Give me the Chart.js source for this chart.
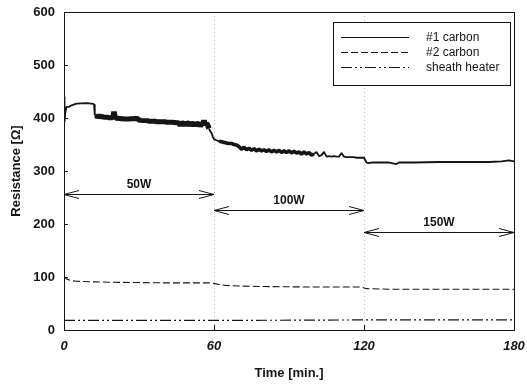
<!DOCTYPE html>
<html>
<head>
<meta charset="utf-8">
<script src="https://cdn.jsdelivr.net/npm/chart.js@4.4.1/dist/chart.umd.min.js"></script>
<style>
  html, body { margin: 0; padding: 0; background: #fff; }
  #wrap { width: 527px; height: 386px; }
</style>
</head>
<body>
<div id="wrap"><canvas id="chart" width="527" height="386"></canvas></div>
<script>
// ---- data ----
const seriesLabels = ['#1 carbon', '#2 carbon', 'sheath heater'];

const carbon1Time = [0, 0.2, 0.5, 1, 2, 3, 5, 9, 11, 12, 12.3,
  13, 13.5, 14, 14.5, 15, 15.5, 16, 16.5, 17, 17.5, 18, 18.5, 19, 19.5, 20, 20.5,
  21, 21.5, 22, 22.5, 23, 23.5, 24, 24.5, 25, 25.5, 26, 26.5, 27, 27.5, 28, 28.5,
  29, 29.5, 30, 30.5, 31, 31.5, 32, 32.5, 33, 33.5, 34, 34.5, 35, 35.5, 36, 36.5,
  37, 37.5, 38, 38.5, 39, 39.5, 40, 40.5, 41, 41.5, 42, 42.5, 43, 43.5, 44, 44.5,
  45, 45.5, 46, 46.5, 47, 47.5, 48, 48.5, 49, 49.5, 50, 50.5, 51, 51.5, 52, 52.5,
  53, 53.5, 54, 54.5, 55, 55.5, 56, 56.5, 57, 57.5, 58, 58.5, 59, 59.5, 60, 61,
  62, 63, 64, 65, 66, 67, 68, 69, 70, 71, 72, 73, 74, 75, 76, 77, 78, 79, 80, 81,
  82, 83, 84, 85, 86, 87, 88, 89, 90, 91, 92, 93, 94, 95, 96, 97, 98, 99, 100, 101,
  102, 103, 104, 105, 106, 107, 108, 109, 110, 111, 112, 113, 114, 115, 116, 117,
  118, 119, 120, 121, 122, 123, 125, 130, 133, 134, 140, 150, 160, 170, 175, 178, 180];
const carbon1Values = [440, 392, 410, 421, 421, 424, 427, 428, 427, 426, 406,
  405, 401, 406, 400, 405, 400, 404, 399, 404, 399, 403, 398, 403, 398, 412, 399,
  402, 397, 401, 397, 401, 396, 400, 396, 400, 396, 400, 396, 401, 396, 401, 397,
  401, 396, 398, 394, 397, 393, 397, 393, 397, 393, 396, 392, 396, 392, 396, 392,
  395, 391, 395, 391, 395, 391, 395, 391, 394, 390, 394, 390, 394, 390, 394, 389,
  393, 389, 393, 385, 392, 389, 392, 385, 392, 389, 392, 385, 391, 388, 391, 385,
  391, 388, 391, 384, 390, 388, 395, 387, 390, 386, 380, 375, 372, 365, 360, 358,
  356, 355, 354, 353, 352, 352, 350, 349, 346, 341, 345, 340, 343, 339, 342, 338,
  341, 338, 340, 337, 340, 336, 339, 336, 339, 335, 338, 335, 338, 334, 337, 334,
  336, 332, 336, 332, 335, 330, 332, 336, 328, 330, 336, 327, 328, 327, 328, 327,
  327, 334, 327, 326, 326, 326, 326, 325, 325, 325, 325, 316, 315, 316, 316, 316,
  313, 316, 316, 317, 317, 317, 318, 320, 318];

const carbon2Time = [0, 1, 3, 5, 10, 20, 40, 58, 60, 62, 65, 70, 80, 100, 119, 121, 130, 150, 180];
const carbon2Values = [100, 96, 93, 92, 91, 90, 89, 89, 88, 86, 84, 83, 82, 81, 81, 78, 77, 77, 77];

const heaterTime = [0, 60, 120, 180];
const heaterValues = [18, 18, 19, 19];

const xTicks = [0, 60, 120, 180];
const yTicks = [0, 100, 200, 300, 400, 500, 600];

// heating power periods shown by the double arrows
const powerLabels = ['50W', '100W', '150W'];
const powerStart = [0, 60, 120];
const powerEnd = [60, 120, 180];
const powerLevel = [257, 226, 185];

const pts = (xs, ys) => xs.map((x, i) => ({ x: x, y: ys[i] }));
const ink = '#151515';

// the noisy stretches of #1 carbon show up as a thick band
const bandWidth = c => {
  const t = c.p0.parsed.x;
  if (t >= 13 && t < 58) return 5.5;
  if (t >= 62 && t < 100) return 3.6;
  return 1.8;
};

// frame, inner ticks, period arrows and legend box
const decor = {
  id: 'decor',
  beforeDatasetsDraw(chart) {
    const { ctx, chartArea: a, scales: { x } } = chart;
    ctx.save();
    ctx.strokeStyle = '#bdbdbd';
    ctx.lineWidth = 1;
    ctx.setLineDash([1, 3]);
    [60, 120].forEach(v => {
      const px = Math.round(x.getPixelForValue(v)) + 0.5;
      ctx.beginPath(); ctx.moveTo(px, a.top); ctx.lineTo(px, a.bottom); ctx.stroke();
    });
    ctx.restore();
  },
  afterDatasetsDraw(chart) {
    const { ctx, chartArea: a, scales: { x, y } } = chart;
    ctx.save();
    ctx.strokeStyle = ink;
    ctx.lineWidth = 1;
    ctx.strokeRect(Math.round(a.left) + 0.5, Math.round(a.top) + 0.5,
      Math.round(a.right - a.left), Math.round(a.bottom - a.top));

    // inward tick marks
    ctx.beginPath();
    yTicks.forEach(v => {
      const py = Math.round(y.getPixelForValue(v)) + 0.5;
      ctx.moveTo(a.left, py); ctx.lineTo(a.left + 4, py);
    });
    [60, 120].forEach(v => {
      const px = Math.round(x.getPixelForValue(v)) + 0.5;
      ctx.moveTo(px, a.bottom); ctx.lineTo(px, a.bottom - 5);
    });
    ctx.stroke();

    // double arrows
    ctx.font = 'bold 12px "Liberation Sans", Arial, sans-serif';
    ctx.textAlign = 'center';
    ctx.textBaseline = 'middle';
    ctx.fillStyle = ink;
    powerLabels.forEach((lab, i) => {
      const x0 = x.getPixelForValue(powerStart[i]);
      const x1 = x.getPixelForValue(powerEnd[i]);
      const py = Math.round(y.getPixelForValue(powerLevel[i])) + 0.5;
      ctx.beginPath();
      ctx.moveTo(x0, py); ctx.lineTo(x1, py);
      ctx.moveTo(x0 + 15, py - 4); ctx.lineTo(x0, py); ctx.lineTo(x0 + 15, py + 4);
      ctx.moveTo(x1 - 15, py - 4); ctx.lineTo(x1, py); ctx.lineTo(x1 - 15, py + 4);
      ctx.stroke();
      ctx.fillText(lab, (x0 + x1) / 2, py - 10);
    });

    // legend
    const lx = a.right - 181, ly = a.top + 10, lw = 177, lh = 63;
    ctx.fillStyle = '#fff';
    ctx.fillRect(lx, ly, lw, lh);
    ctx.strokeRect(Math.round(lx) + 0.5, Math.round(ly) + 0.5, lw, lh);
    ctx.font = '12px "Liberation Sans", Arial, sans-serif';
    ctx.textAlign = 'left';
    chart.data.datasets.forEach((ds, i) => {
      const ry = Math.round(ly + 15 + i * 15) + 0.5;
      ctx.setLineDash(ds.borderDash || []);
      ctx.lineWidth = 1.2;
      ctx.beginPath(); ctx.moveTo(lx + 8, ry); ctx.lineTo(lx + 76, ry); ctx.stroke();
      ctx.setLineDash([]);
      ctx.fillStyle = ink;
      ctx.fillText(ds.label, lx + 93, ry);
    });
    ctx.restore();
  }
};

new Chart(document.getElementById('chart'), {
  type: 'scatter',
  data: {
    datasets: [
      { label: seriesLabels[0], data: pts(carbon1Time, carbon1Values), borderColor: ink,
        borderWidth: 1.8, borderDash: [], borderJoinStyle: 'bevel',
        segment: { borderWidth: bandWidth } },
      { label: seriesLabels[1], data: pts(carbon2Time, carbon2Values), borderColor: ink,
        borderWidth: 1.1, borderDash: [7, 3] },
      { label: seriesLabels[2], data: pts(heaterTime, heaterValues), borderColor: ink,
        borderWidth: 1.2, borderDash: [11, 3, 2, 3, 2, 3] }
    ].map(d => Object.assign(d, { showLine: true, pointRadius: 0, fill: false, tension: 0 }))
  },
  options: {
    responsive: false,
    animation: false,
    layout: { padding: { top: 12, right: 13, left: 0, bottom: 0 } },
    plugins: { legend: { display: false }, tooltip: { enabled: false } },
    scales: {
      x: {
        type: 'linear', min: 0, max: 180,
        afterBuildTicks: s => { s.ticks = xTicks.map(v => ({ value: v })); },
        afterFit: s => { s.height = 56; s.paddingLeft = 0; s.paddingRight = 0; },
        grid: { display: false, drawTicks: false },
        border: { display: false },
        ticks: { padding: 9, color: ink, font: { family: '"Liberation Sans", Arial', size: 13, weight: 'bold', style: 'italic' } },
        title: { display: true, text: 'Time [min.]', color: ink, padding: { top: 0, bottom: 5 },
          font: { family: '"Liberation Sans", Arial', size: 13, weight: 'bold' } }
      },
      y: {
        min: 0, max: 600,
        afterBuildTicks: s => { s.ticks = yTicks.map(v => ({ value: v })); },
        afterFit: s => { s.width = 64; s.paddingTop = 0; s.paddingBottom = 0; },
        grid: { display: false, drawTicks: false },
        border: { display: false },
        ticks: { padding: 9, color: ink, font: { family: '"Liberation Sans", Arial', size: 13, weight: 'bold' } },
        title: { display: true, text: 'Resistance [Ω]', color: ink, padding: { top: 9, bottom: 0 },
          font: { family: '"Liberation Sans", Arial', size: 13, weight: 'bold' } }
      }
    }
  },
  plugins: [decor]
});
</script>
</body>
</html>
